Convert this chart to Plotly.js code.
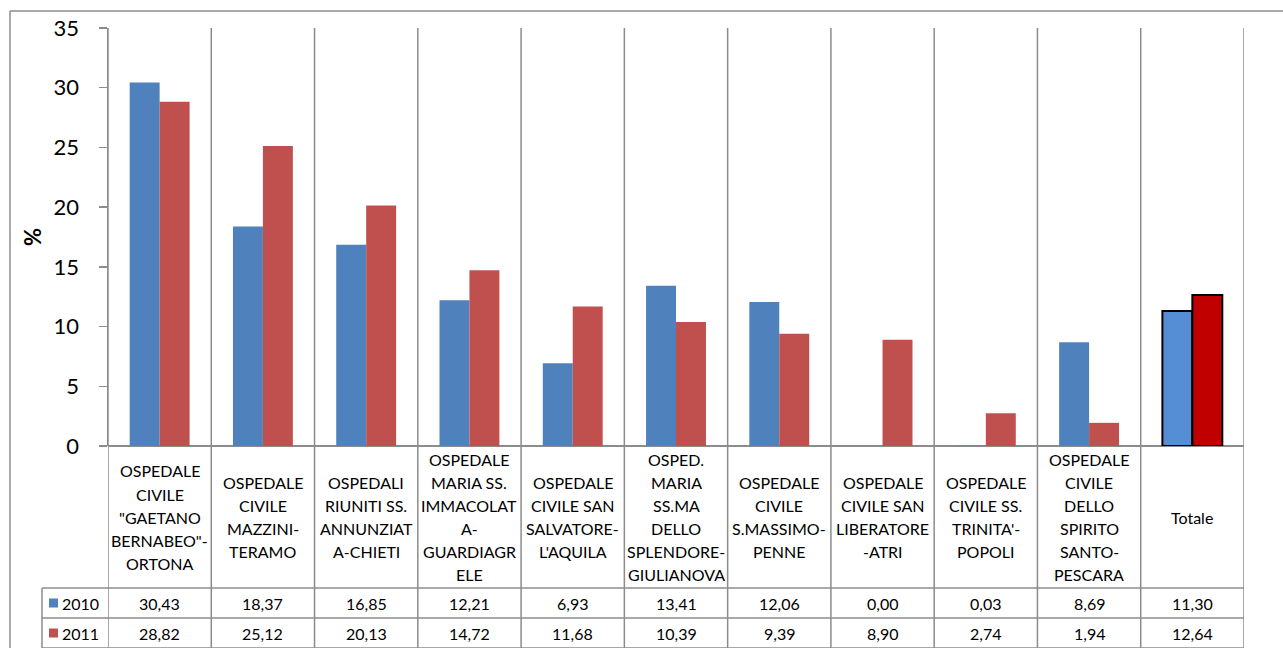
<!DOCTYPE html>
<html>
<head>
<meta charset="utf-8">
<script src="https://cdn.plot.ly/plotly-3.0.1.min.js"></script>
<style>
html,body{margin:0;padding:0;background:#fff;}
#chart{width:1283px;height:648px;}
</style>
</head>
<body>
<div id="chart"></div>
<script>
// ---- DATA ----
const categories = [
  'OSPEDALE<br>CIVILE<br>"GAETANO<br>BERNABEO"-<br>ORTONA',
  'OSPEDALE<br>CIVILE<br>MAZZINI-<br>TERAMO',
  'OSPEDALI<br>RIUNITI SS.<br>ANNUNZIAT<br>A-CHIETI',
  'OSPEDALE<br>MARIA SS.<br>IMMACOLAT<br>A-<br>GUARDIAGR<br>ELE',
  'OSPEDALE<br>CIVILE SAN<br>SALVATORE-<br>L\'AQUILA',
  'OSPED.<br>MARIA<br>SS.MA<br>DELLO<br>SPLENDORE-<br>GIULIANOVA',
  'OSPEDALE<br>CIVILE<br>S.MASSIMO-<br>PENNE',
  'OSPEDALE<br>CIVILE SAN<br>LIBERATORE<br>-ATRI',
  'OSPEDALE<br>CIVILE SS.<br>TRINITA\'-<br>POPOLI',
  'OSPEDALE<br>CIVILE<br>DELLO<br>SPIRITO<br>SANTO-<br>PESCARA',
  'Totale'
];
const seriesNames = ['2010', '2011'];
const values2010 = [30.43, 18.37, 16.85, 12.21, 6.93, 13.41, 12.06, 0.00, 0.03, 8.69, 11.30];
const values2011 = [28.82, 25.12, 20.13, 14.72, 11.68, 10.39, 9.39, 8.90, 2.74, 1.94, 12.64];
const yTicks = [0, 5, 10, 15, 20, 25, 30, 35];

// ---- STYLE ----
const FONT = 'Lato, "Open Sans", sans-serif';
const GRID = '#8c8c8c';
const c2010 = '#4f81bd', c2011 = '#c0504d';
const c2010T = '#558ed5', c2011T = '#c00000';

const W = 1283, H = 648;
const M = {l:108, r:39, t:28, b:202};
const plotW = W - M.l - M.r, plotH = H - M.t - M.b;
const px2x = p => (p - M.l) / plotW;          // pixel x -> paper x
const py2y = p => (H - M.b - p) / plotH;      // pixel y -> paper y

const n = categories.length;
const idx = categories.map((_, i) => i);
const lastIdx = n - 1;

const colors10 = idx.map(i => i === lastIdx ? c2010T : c2010);
const colors11 = idx.map(i => i === lastIdx ? c2011T : c2011);
const lineW = idx.map(i => i === lastIdx ? 2 : 0);

const traces = [
  {type:'bar', name:seriesNames[0], x:idx, y:values2010,
   marker:{color:colors10, line:{color:'#000', width:lineW}}},
  {type:'bar', name:seriesNames[1], x:idx, y:values2011,
   marker:{color:colors11, line:{color:'#000', width:lineW}}}
];

// table geometry (pixel rows)
const rowTop = 446, hdrBottom = 588, row1Bottom = 618, row2Bottom = 648;
const tableLeft = 42;
const yBottom = py2y(row2Bottom + 4);

const shapes = [];
for (let i = 0; i <= n; i++) {
  shapes.push({type:'line', xref:'x', yref:'paper', x0:i-0.5, x1:i-0.5,
    y0: yBottom, y1: 1, line:{color:GRID, width:1.5}, layer:'below'});
}
[hdrBottom, row1Bottom, row2Bottom].forEach(p => {
  shapes.push({type:'line', xref:'paper', yref:'paper', x0:px2x(tableLeft), x1:1,
    y0:py2y(p), y1:py2y(p), line:{color:GRID, width:1.5}});
});
shapes.push({type:'line', xref:'paper', yref:'paper', x0:px2x(tableLeft), x1:px2x(tableLeft),
  y0:yBottom, y1:py2y(hdrBottom), line:{color:GRID, width:1.5}});
shapes.push({type:'line', xref:'paper', yref:'paper', x0:px2x(10), x1:px2x(10),
  y0:yBottom, y1:py2y(11), line:{color:GRID, width:1.5}});
shapes.push({type:'line', xref:'paper', yref:'paper', x0:px2x(10), x1:px2x(W+5),
  y0:py2y(11), y1:py2y(11), line:{color:GRID, width:1.5}});
const rowCenters = [(hdrBottom + row1Bottom) / 2, (row1Bottom + row2Bottom) / 2];
[c2010, c2011].forEach((c, k) => {
  shapes.push({type:'rect', xref:'paper', yref:'paper',
    x0:px2x(49), x1:px2x(58), y0:py2y(rowCenters[k] + 4.5), y1:py2y(rowCenters[k] - 4.5),
    fillcolor:c, line:{width:0}});
});

const annotations = [];
const fmt = v => v.toFixed(2).replace('.', ',');
const LINE = 23;
const hdrCenter = (rowTop + hdrBottom) / 2;
categories.forEach((c, i) => {
  const lines = c.split('<br>');
  lines.forEach((t, j) => {
    const py = hdrCenter + (j - (lines.length - 1) / 2) * LINE;
    annotations.push({xref:'x', yref:'paper', x:i, y:py2y(py),
      text:t, showarrow:false, xanchor:'center', yanchor:'middle',
      font:{family:FONT, size:16, color:'#000'}});
  });
  annotations.push({xref:'x', yref:'paper', x:i, y:py2y(rowCenters[0]),
    text:fmt(values2010[i]), showarrow:false, xanchor:'center', yanchor:'middle',
    font:{family:FONT, size:16, color:'#000'}});
  annotations.push({xref:'x', yref:'paper', x:i, y:py2y(rowCenters[1]),
    text:fmt(values2011[i]), showarrow:false, xanchor:'center', yanchor:'middle',
    font:{family:FONT, size:16, color:'#000'}});
});
seriesNames.forEach((s, k) => {
  annotations.push({xref:'paper', yref:'paper', x:px2x(60), y:py2y(rowCenters[k]),
    text:s, showarrow:false, xanchor:'left', yanchor:'middle',
    font:{family:FONT, size:16, color:'#000'}});
});
annotations.push({xref:'paper', yref:'paper', x:px2x(32), y:py2y(237),
  text:'<b>%</b>', showarrow:false, textangle:-90, xanchor:'center', yanchor:'middle',
  font:{family:FONT, size:22, color:'#000'}});

const layout = {
  width:W, height:H,
  margin:M,
  paper_bgcolor:'#fff', plot_bgcolor:'#fff',
  showlegend:false,
  barmode:'group', bargap:0.42, bargroupgap:0,
  xaxis:{type:'linear', range:[-0.5, n - 0.5], showticklabels:false, showgrid:false,
    zeroline:false, ticks:'', showline:false, fixedrange:true},
  yaxis:{range:[0, 35], tickvals:yTicks, ticks:'outside', ticklen:8, tickwidth:1.5,
    tickcolor:GRID, showline:true, linecolor:GRID, linewidth:1.5, showgrid:false,
    zeroline:true, zerolinecolor:GRID, zerolinewidth:1.5,
    ticklabelstandoff:15,
    tickfont:{family:FONT, size:22, color:'#000'}},
  shapes:shapes,
  annotations:annotations
};

Plotly.newPlot('chart', traces, layout, {displayModeBar:false, staticPlot:true});
</script>
</body>
</html>
